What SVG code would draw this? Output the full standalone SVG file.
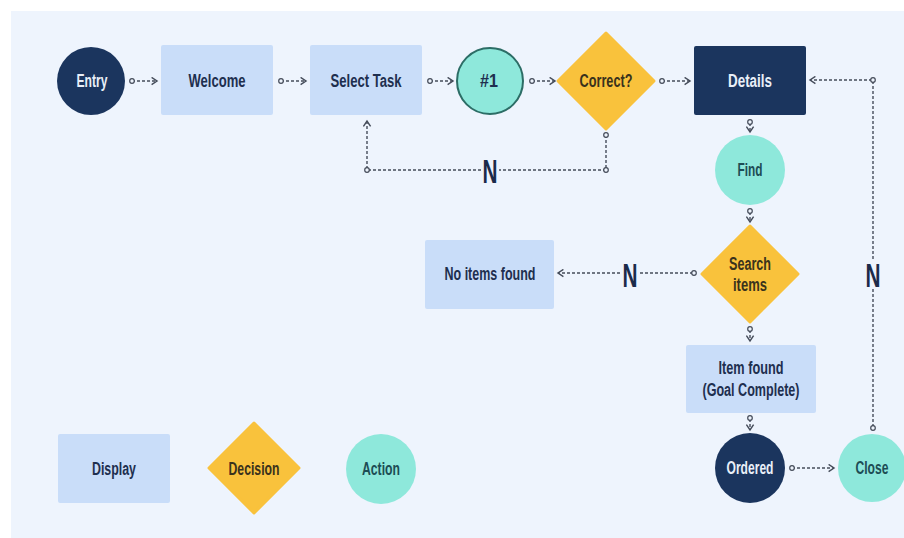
<svg xmlns="http://www.w3.org/2000/svg" width="904" height="538" viewBox="0 0 904 538">
<defs>
<marker id="arr" viewBox="0 0 10 10" refX="8" refY="5" markerWidth="9" markerHeight="9" markerUnits="userSpaceOnUse" orient="auto">
<path d="M2,1 L8,5 L2,9" fill="none" stroke="#454c5a" stroke-width="1.6"/>
</marker>
<style>
.t{font-family:"Liberation Sans",Arial,sans-serif;font-weight:bold;font-size:18px;text-anchor:middle;dominant-baseline:central;}
.dark{fill:#1e2f4f}
.light{fill:#e9eff8}
.teal{fill:#1d4d55}
.brown{fill:#3a321c}
.disp{fill:#c9ddf9}
.dec{fill:#f9c23c}
.act{fill:#8ee8db}
.navy{fill:#1b355e}
.c{fill:none;stroke:#454c5a;stroke-width:1.4;stroke-dasharray:3 2}
.dot{fill:#eef4fd;stroke:#454c5a;stroke-width:1.2}
.n{font-family:"Liberation Sans",Arial,sans-serif;font-weight:bold;font-size:34px;fill:#1b2b4a;text-anchor:middle;dominant-baseline:central;}
</style>
</defs>
<rect width="904" height="538" fill="#ffffff"/>
<rect x="11" y="11" width="893" height="527" fill="#eef4fd"/>

<g id="connectors">
<line class="c" x1="132" y1="81" x2="157" y2="81" marker-end="url(#arr)"/>
<line class="c" x1="281" y1="81" x2="306" y2="81" marker-end="url(#arr)"/>
<line class="c" x1="430" y1="81" x2="453" y2="81" marker-end="url(#arr)"/>
<line class="c" x1="532" y1="81" x2="555" y2="81" marker-end="url(#arr)"/>
<line class="c" x1="662" y1="81" x2="690" y2="81" marker-end="url(#arr)"/>
<path class="c" d="M606,135 V170 H499"/>
<path class="c" d="M481,170 H367 V121" marker-end="url(#arr)"/>
<line class="c" x1="750" y1="123" x2="750" y2="132" marker-end="url(#arr)"/>
<line class="c" x1="750" y1="212" x2="750" y2="222" marker-end="url(#arr)"/>
<line class="c" x1="693" y1="273" x2="639" y2="273"/>
<line class="c" x1="620" y1="273" x2="558" y2="273" marker-end="url(#arr)"/>
<line class="c" x1="750" y1="330" x2="750" y2="341" marker-end="url(#arr)"/>
<line class="c" x1="750" y1="419" x2="750" y2="430" marker-end="url(#arr)"/>
<line class="c" x1="792" y1="468" x2="834" y2="468" marker-end="url(#arr)"/>
<path class="c" d="M873,427 V289"/>
<path class="c" d="M873,259 V80 H810" marker-end="url(#arr)"/>
<circle class="dot" cx="132" cy="81" r="2.3"/>
<circle class="dot" cx="281" cy="81" r="2.3"/>
<circle class="dot" cx="430" cy="81" r="2.3"/>
<circle class="dot" cx="532" cy="81" r="2.3"/>
<circle class="dot" cx="662" cy="81" r="2.3"/>
<circle class="dot" cx="606" cy="135" r="2.3"/>
<circle class="dot" cx="606" cy="170" r="2.3"/>
<circle class="dot" cx="367" cy="170" r="2.3"/>
<circle class="dot" cx="750" cy="122" r="2.3"/>
<circle class="dot" cx="750" cy="211" r="2.3"/>
<circle class="dot" cx="694" cy="273" r="2.3"/>
<circle class="dot" cx="750" cy="329" r="2.3"/>
<circle class="dot" cx="750" cy="418" r="2.3"/>
<circle class="dot" cx="792" cy="468" r="2.3"/>
<circle class="dot" cx="873" cy="428" r="2.3"/>
<circle class="dot" cx="873" cy="80" r="2.3"/>
<text class="n" x="490" y="171" textLength="15" lengthAdjust="spacingAndGlyphs">N</text>
<text class="n" x="630" y="275" textLength="15" lengthAdjust="spacingAndGlyphs">N</text>
<text class="n" x="873" y="275" textLength="15" lengthAdjust="spacingAndGlyphs">N</text>
</g>

<g id="entry"><circle class="navy" cx="91" cy="81" r="34"/><text class="t light" x="92" y="81" textLength="31" lengthAdjust="spacingAndGlyphs">Entry</text></g>
<g id="welcome"><rect class="disp" x="161" y="45" width="112" height="70" rx="2"/><text class="t dark" x="217" y="81" textLength="57" lengthAdjust="spacingAndGlyphs">Welcome</text></g>
<g id="select-task"><rect class="disp" x="310" y="45" width="112" height="70" rx="2"/><text class="t dark" x="366" y="81" textLength="71" lengthAdjust="spacingAndGlyphs">Select Task</text></g>
<g id="step1"><circle class="act" cx="490" cy="81" r="33" stroke="#2c6d66" stroke-width="2"/><text class="t dark" x="489" y="81" textLength="18" lengthAdjust="spacingAndGlyphs">#1</text></g>
<g id="correct"><path class="dec" d="M606,33 L654,81 L606,129 L558,81 Z" stroke="#f9c23c" stroke-width="3" stroke-linejoin="round"/><text class="t brown" x="606" y="81" textLength="53" lengthAdjust="spacingAndGlyphs">Correct?</text></g>
<g id="details"><rect class="navy" x="694" y="46" width="112" height="69" rx="2"/><text class="t light" x="750" y="81" textLength="44" lengthAdjust="spacingAndGlyphs">Details</text></g>
<g id="find"><circle class="act" cx="750" cy="170" r="35"/><text class="t teal" x="750" y="170" textLength="25" lengthAdjust="spacingAndGlyphs">Find</text></g>
<g id="search-items"><path class="dec" d="M750,226 L798,274 L750,322 L702,274 Z" stroke="#f9c23c" stroke-width="3" stroke-linejoin="round"/><text class="t brown" x="750" y="264" textLength="42" lengthAdjust="spacingAndGlyphs">Search</text><text class="t brown" x="750" y="285" textLength="34" lengthAdjust="spacingAndGlyphs">items</text></g>
<g id="no-items"><rect class="disp" x="425" y="240" width="129" height="69" rx="2"/><text class="t dark" x="490" y="274" textLength="91" lengthAdjust="spacingAndGlyphs">No items found</text></g>
<g id="item-found"><rect class="disp" x="686" y="345" width="130" height="68" rx="2"/><text class="t dark" x="751" y="368" textLength="65" lengthAdjust="spacingAndGlyphs">Item found</text><text class="t dark" x="751" y="390" textLength="97" lengthAdjust="spacingAndGlyphs">(Goal Complete)</text></g>
<g id="ordered"><circle class="navy" cx="750" cy="468" r="35"/><text class="t light" x="750" y="468" textLength="47" lengthAdjust="spacingAndGlyphs">Ordered</text></g>
<g id="close"><circle class="act" cx="872" cy="468" r="34"/><text class="t teal" x="872" y="468" textLength="33" lengthAdjust="spacingAndGlyphs">Close</text></g>
<g id="legend-display"><rect class="disp" x="58" y="434" width="112" height="69" rx="2"/><text class="t dark" x="114" y="469" textLength="44" lengthAdjust="spacingAndGlyphs">Display</text></g>
<g id="legend-decision"><path class="dec" d="M254,423 L299,468 L254,513 L209,468 Z" stroke="#f9c23c" stroke-width="3" stroke-linejoin="round"/><text class="t brown" x="254" y="469" textLength="51" lengthAdjust="spacingAndGlyphs">Decision</text></g>
<g id="legend-action"><circle class="act" cx="381" cy="469" r="35"/><text class="t teal" x="381" y="469" textLength="38" lengthAdjust="spacingAndGlyphs">Action</text></g>
</svg>
